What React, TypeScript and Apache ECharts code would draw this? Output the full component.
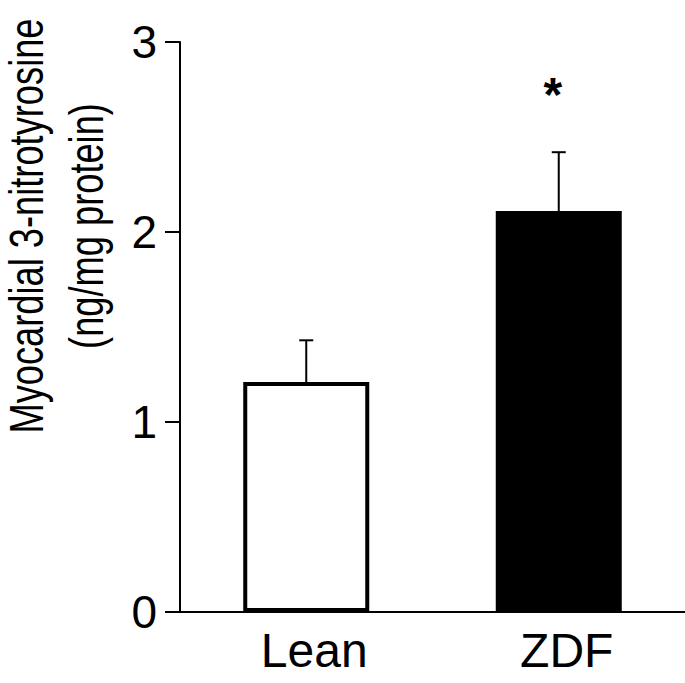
import React, { useEffect, useRef } from "react";
import * as echarts from "echarts";

const categories = ["Lean", "ZDF"];
const means = [1.21, 2.11];
const errorTops = [1.43, 2.42];
const significance = ["", "*"];
const barFills = ["#ffffff", "#000000"];
const yTicks = { min: 0, max: 3, interval: 1 };
const yTitleLines = ["Myocardial 3-nitrotyrosine", "(ng/mg protein)"];

const FONT = '"Liberation Sans", Arial, Helvetica, sans-serif';

export default function App() {
  const ref = useRef<HTMLDivElement>(null);
  useEffect(() => {
    if (!ref.current) return;
    const chart = echarts.init(ref.current, null, { renderer: "svg" });
    const option: any = {
      animation: false,
      backgroundColor: "#ffffff",
      grid: { left: 180, top: 42, bottom: 71, right: 0, containLabel: false },
      xAxis: {
        type: "category",
        data: categories,
        axisLine: { show: true, lineStyle: { color: "#000", width: 2 } },
        axisTick: { show: false },
        axisLabel: { color: "#000", fontSize: 48, fontFamily: FONT, margin: 14, padding: [0, 0, 0, 16] },
        splitLine: { show: false },
      },
      yAxis: {
        type: "value",
        min: yTicks.min,
        max: yTicks.max,
        interval: yTicks.interval,
        axisLine: { show: true, lineStyle: { color: "#000", width: 2 } },
        axisTick: { show: true, length: 15, lineStyle: { color: "#000", width: 2 } },
        axisLabel: { color: "#000", fontSize: 46, fontFamily: FONT, margin: 23, padding: [0, 0, 7, 0] },
        splitLine: { show: false },
      },
      graphic: yTitleLines.map((t, i) => ({
        type: "text",
        x: i === 0 ? 26 : 86,
        y: 226,
        rotation: Math.PI / 2,
        scaleX: 0.74,
        style: {
          text: t,
          fill: "#000",
          fontSize: 49,
          fontFamily: FONT,
          align: "center",
          verticalAlign: "middle",
        },
      })),
      series: [
        {
          type: "bar",
          barWidth: 126,
          data: means.map((v, i) => ({
            value: v,
            itemStyle: { color: barFills[i], borderColor: "#000", borderWidth: 4 },
          })),
          z: 2,
        },
        {
          type: "custom",
          z: 3,
          data: means.map((m, i) => [i, m, errorTops[i]]),
          renderItem: (params: any, api: any) => {
            const i = api.value(0);
            const base = api.coord([i, api.value(1)]);
            const top = api.coord([i, api.value(2)]);
            const children: any[] = [
              {
                type: "line",
                shape: { x1: top[0], y1: base[1], x2: top[0], y2: top[1] },
                style: { stroke: "#000", lineWidth: 2 },
              },
              {
                type: "line",
                shape: { x1: top[0] - 7, y1: top[1], x2: top[0] + 7, y2: top[1] },
                style: { stroke: "#000", lineWidth: 2 },
              },
            ];
            const sig = significance[params.dataIndex];
            if (sig) {
              children.push({
                type: "text",
                x: top[0] - 6,
                y: top[1] - 58,
                style: {
                  text: sig,
                  fill: "#000",
                  fontSize: 48,
                  fontFamily: FONT,
                  fontWeight: "bold",
                  align: "center",
                  verticalAlign: "middle",
                },
              });
            }
            return { type: "group", children };
          },
        },
      ],
    };
    chart.setOption(option);
    return () => chart.dispose();
  }, []);
  return (
    <div
      ref={ref}
      style={{ position: "fixed", left: 0, top: 0, width: 685, height: 683, background: "#fff" }}
    />
  );
}
